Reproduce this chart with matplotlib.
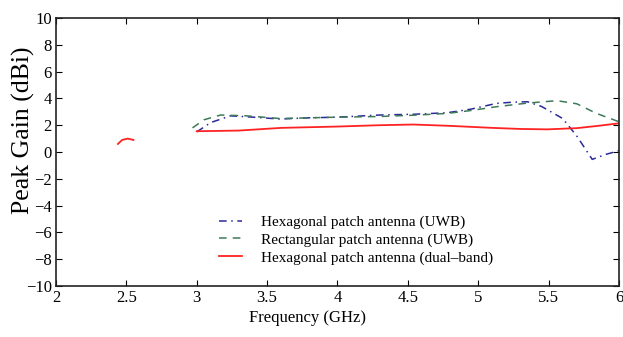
import matplotlib
matplotlib.use('Agg')
import matplotlib.pyplot as plt

plt.rcParams['font.family'] = ['Liberation Serif', 'DejaVu Serif']
plt.rcParams['mathtext.fontset'] = 'stix'

# hexagonal patch (UWB), dash-dot
hex_uwb_f = [3.0, 3.1, 3.24, 3.4, 3.59, 3.8, 4.0, 4.3, 4.55, 4.78, 4.95, 5.13, 5.25, 5.35, 5.45, 5.6, 5.7, 5.81, 5.9, 6.0]
hex_uwb_g = [1.5, 2.2, 2.7, 2.6, 2.46, 2.55, 2.6, 2.76, 2.82, 2.93, 3.2, 3.63, 3.72, 3.75, 3.4, 2.5, 1.2, -0.55, -0.2, 0.1]

# rectangular patch (UWB), dashed
rect_f = [2.97, 3.05, 3.17, 3.35, 3.59, 3.8, 4.0, 4.3, 4.55, 4.78, 4.95, 5.13, 5.35, 5.56, 5.7, 5.84, 6.0]
rect_g = [1.8, 2.4, 2.76, 2.7, 2.5, 2.55, 2.6, 2.65, 2.75, 2.88, 3.1, 3.38, 3.65, 3.83, 3.6, 2.88, 2.26]

# hexagonal patch (dual-band), solid
dual_f1 = [2.44, 2.47, 2.51, 2.55]
dual_g1 = [0.6, 0.9, 1.0, 0.9]
dual_f2 = [3.0, 3.3, 3.6, 4.0, 4.3, 4.54, 4.8, 5.1, 5.3, 5.49, 5.7, 5.85, 6.0]
dual_g2 = [1.55, 1.6, 1.8, 1.9, 2.0, 2.05, 1.95, 1.8, 1.72, 1.69, 1.78, 1.95, 2.14]

fig = plt.figure(figsize=(6.23, 3.37), dpi=100)
ax = fig.add_axes([0.0899, 0.1513, 0.9036, 0.7953])

ax.plot(hex_uwb_f, hex_uwb_g, color='#2a2a9c', lw=1.1, dashes=(5, 3, 1, 3),
        label='Hexagonal patch antenna (UWB)')
ax.plot(rect_f, rect_g, color='#3f7a58', lw=1.1, dashes=(5, 4),
        label='Rectangular patch antenna (UWB)')
ax.plot(dual_f1, dual_g1, color='#ff2222', lw=1.3,
        label='Hexagonal patch antenna (dual\u2013band)')
ax.plot(dual_f2, dual_g2, color='#ff2222', lw=1.3)

ax.set_xlim(2, 6)
ax.set_ylim(-10, 10)
ax.set_xticks([2, 2.5, 3, 3.5, 4, 4.5, 5, 5.5, 6])
ax.set_xticklabels(['2', '2.5', '3', '3.5', '4', '4.5', '5', '5.5', '6'])
ax.set_yticks(range(-10, 11, 2))
ax.set_yticklabels([str(v).replace('-', '\u2212') for v in range(-10, 11, 2)])
ax.tick_params(direction='in', top=True, right=True, labelsize=12, length=4, pad=3)
for s in ax.spines.values():
    s.set_linewidth(1.2)
    s.set_color('#222222')

ax.set_xlabel('Frequency (GHz)', fontsize=12)
ax.xaxis.set_label_coords(0.446, -0.09)
ax.set_ylabel('Peak Gain (dBi)', fontsize=18.5)
ax.yaxis.set_label_coords(-0.037, 0.58)

ax.legend(loc='lower left', bbox_to_anchor=(0.27, 0.04), frameon=False, fontsize=11,
          handlelength=1.5, labelspacing=0.25, handletextpad=1.3, borderpad=0.2)

fig.savefig('out.png', dpi=100)
